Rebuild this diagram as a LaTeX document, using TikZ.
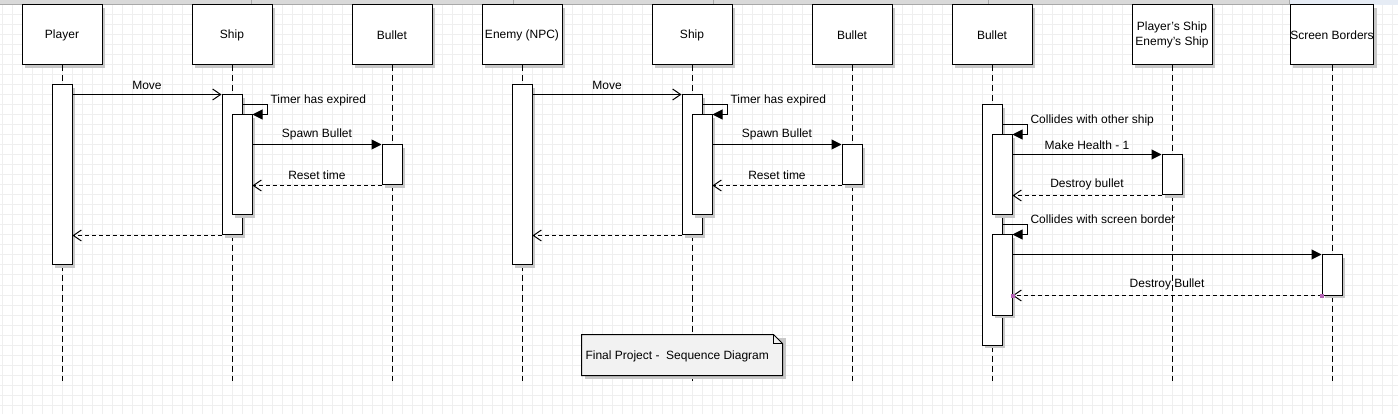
\documentclass[tikz,border=0pt]{standalone}
\usepackage{fontspec}
\setmainfont{Liberation Sans}
\usetikzlibrary{arrows.meta,shadows,calc}
\definecolor{gridc}{HTML}{EFEFEF}
\definecolor{shadowc}{HTML}{C8C8C8}
\definecolor{notefill}{HTML}{F2F2F2}
\definecolor{stripc}{HTML}{D9D9D9}
\definecolor{stripline}{HTML}{A8A8A8}
\definecolor{stripblue}{HTML}{E6ECF5}
\definecolor{handlec}{HTML}{B464B4}
\begin{document}
\begin{tikzpicture}[x=1pt,y=-1pt,line width=1pt,
  font=\fontsize{12}{14.5}\selectfont,
  shad/.style={general shadow={fill=shadowc,shadow xshift=3pt,shadow yshift=-3pt}},
  head/.style={draw,fill=white,minimum width=80pt,minimum height=60pt,inner sep=0pt,align=center,shad},
  act/.style={draw,fill=white,minimum width=20pt,inner sep=0pt,shad},
  life/.style={dash pattern=on 6pt off 4pt},
  msg/.style={-{Straight Barb[length=8pt,width=11pt,line width=1pt]}},
  call/.style={-{Triangle[length=10pt,width=10pt]}},
  reply/.style={dash pattern=on 4pt off 3pt,-{Straight Barb[length=8pt,width=11pt,line width=1pt]}},
  lbl/.style={inner sep=0pt},
  handle/.style={fill=handlec,minimum size=4pt,inner sep=0pt}]
\useasboundingbox (0,0) rectangle (1398,414);
\fill[white] (0,0) rectangle (1398,414);
% grid
\foreach \x in {2,12,...,1398} \draw[gridc] (\x,0) -- (\x,414);
\foreach \y in {5,15,...,414} \draw[gridc] (0,\y) -- (1398,\y);
% top strip
\fill[stripc] (0,0) rectangle (1289,5);
\fill[stripblue] (1289,0) rectangle (1398,5);
\draw[stripline] (0,4.5) -- (1289,4.5);
\foreach \x in {251,513,713,988,1289} \draw[stripline] (\x,0) -- (\x,5);

% ---------- groups 1 and 2 ----------
\foreach \g/\n/\t in {0/a/{Player},460/b/{Enemy (NPC)}}{
  \node[head] (hp\n) at (62+\g,35) {\t};
  \node[head] (hs\n) at (232+\g,35) {Ship};
  \node[head] (hb\n) at (392+\g,35) {Bullet};
  \coordinate (ep\n) at (62+\g,381);
  \coordinate (es\n) at (232+\g,381);
  \coordinate (eb\n) at (392+\g,381);
  \draw[life] (hp\n.south) -- (ep\n);
  \draw[life] (hs\n.south) -- (es\n);
  \draw[life] (hb\n.south) -- (eb\n);
  \node[act,minimum height=180pt] (pa\n) at (62+\g,175) {};
  \node[act,minimum height=140pt] (sa\n) at (232+\g,165) {};
  \node[act,minimum height=100pt] (si\n) at (242+\g,165) {};
  \node[act,minimum height=40pt] (ba\n) at (392+\g,165) {};
  \draw[msg] (pa\n.east |- sa\n.north west) -- (sa\n.north west);
  \draw[call] ($(sa\n.north east)+(0,10)$) -| ($(si\n.north east)+(15,0)$) -- (si\n.north east);
  \draw[call] (si\n.east |- ba\n.north west) -- (ba\n.north west);
  \draw[reply] (ba\n.south west) -- (si\n.east |- ba\n.south west);
  \draw[reply] (sa\n.south west) -- (pa\n.east |- sa\n.south west);
  \node[lbl] (lm\n) at (147+\g,85) {Move};
  \node[lbl,anchor=west] (lt\n) at (270+\g,100) {Timer has expired};
  \node[lbl] (ls\n) at (317+\g,134) {Spawn Bullet};
  \node[lbl] (lr\n) at (317+\g,175) {Reset time};
}

% ---------- group 3 ----------
\node[head] (hbc) at (992,35) {Bullet};
\node[head] (hps) at (1172,35) {Player's Ship\\Enemy's Ship};
\node[head] (hsb) at (1332,35) {Screen Borders};
\coordinate (ebc) at (992,381);
\coordinate (eps) at (1172,381);
\coordinate (esb) at (1332,381);
\draw[life] (hbc.south) -- (ebc);
\draw[life] (hps.south) -- (eps);
\draw[life] (hsb.south) -- (esb);
\node[act,minimum height=240pt] (bo) at (992,225) {};
\node[act,minimum height=80pt] (bi1) at (1002,175) {};
\node[act,minimum height=40pt] (pe) at (1172,175) {};
\node[act,minimum height=80pt] (bi2) at (1002,275) {};
\node[act,minimum height=40pt] (sb) at (1332,275) {};
\draw[call] ($(bo.north east)+(0,20)$) -| ($(bi1.north east)+(15,0)$) -- (bi1.north east);
\draw[call] (bi1.east |- pe.north west) -- (pe.north west);
\draw[reply] (pe.south west) -- (bi1.east |- pe.south west);
\draw[call] ($(bo.north east)+(0,120)$) -| ($(bi2.north east)+(15,0)$) -- (bi2.north east);
\draw[call] (bi2.east |- sb.north west) -- (sb.north west);
\draw[reply] (sb.south west) -- (bi2.east |- sb.south west);
\node[handle] (h1) at (bi2.east |- sb.south west) {};
\node[handle] (h2) at (sb.south west) {};
\node[lbl,anchor=west] (lc1) at (1030,120) {Collides with other ship};
\node[lbl] (lh) at (1087,145) {Make Health - 1};
\node[lbl] (ld1) at (1087,184) {Destroy bullet};
\node[lbl,anchor=west] (lc2) at (1030,219) {Collides with screen border};
\node[lbl] (ld2) at (1167,284) {Destroy Bullet};

% ---------- note ----------
\node[minimum width=200pt,minimum height=40pt,inner sep=0pt] (note) at (682,355) {};
\fill[shadowc] ($(note.north west)+(3,3)$) -- ($(note.north east)+(3,3)$) -- ($(note.south east)+(3,3)$) -- ($(note.south west)+(3,3)$) -- cycle;
\draw[fill=notefill] (note.north west) -- ($(note.north east)+(-9,0)$) -- ($(note.north east)+(0,9)$) -- (note.south east) -- (note.south west) -- cycle;
\draw[line width=0.8pt] ($(note.north east)+(-9,0)$) -- ($(note.north east)+(-9,9)$) -- ($(note.north east)+(0,9)$);
\node[lbl,anchor=west] (nt) at (585,356) {Final Project -\ \ Sequence Diagram};
\end{tikzpicture}
\end{document}
